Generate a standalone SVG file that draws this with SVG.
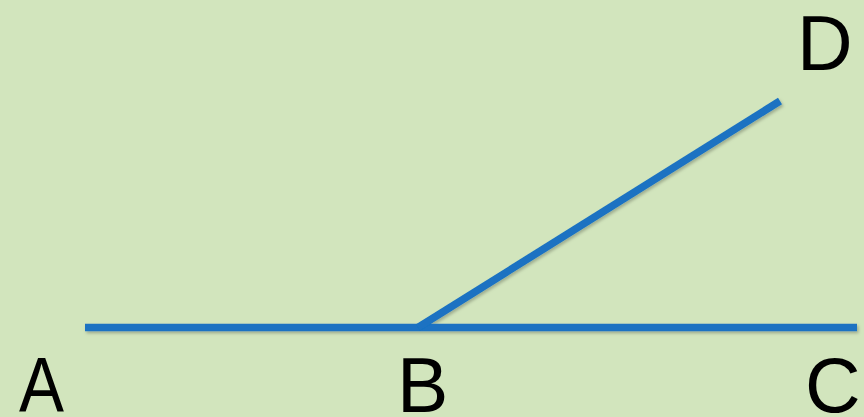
<svg xmlns="http://www.w3.org/2000/svg" width="864" height="417" viewBox="0 0 864 417">
  <style>
    .ray { stroke: #1a72c2; stroke-width: 7.5; stroke-linecap: butt; fill: none; }
    .lbl { font-family: "Liberation Sans", Arial, sans-serif; font-size: 77px; fill: #000000; }
  </style>
  <defs>
    <filter id="shadow" x="-5%" y="-20%" width="110%" height="140%">
      <feDropShadow dx="1.5" dy="2" stdDeviation="1.5" flood-color="#000000" flood-opacity="0.25"/>
    </filter>
  </defs>
  <rect x="0" y="0" width="864" height="417" fill="#d2e5bd"/>
  <g id="connectors" filter="url(#shadow)">
    <line class="ray" x1="85" y1="327.5" x2="857" y2="327.5"/>
    <line class="ray" x1="418" y1="327.5" x2="780" y2="101"/>
  </g>
  <g id="A"><text class="lbl" x="19" y="412" textLength="45" lengthAdjust="spacingAndGlyphs">A</text></g>
  <g id="B"><text class="lbl" x="397" y="412">B</text></g>
  <g id="C"><text class="lbl" x="805" y="412">C</text></g>
  <g id="D"><text class="lbl" x="797" y="70">D</text></g>
</svg>
